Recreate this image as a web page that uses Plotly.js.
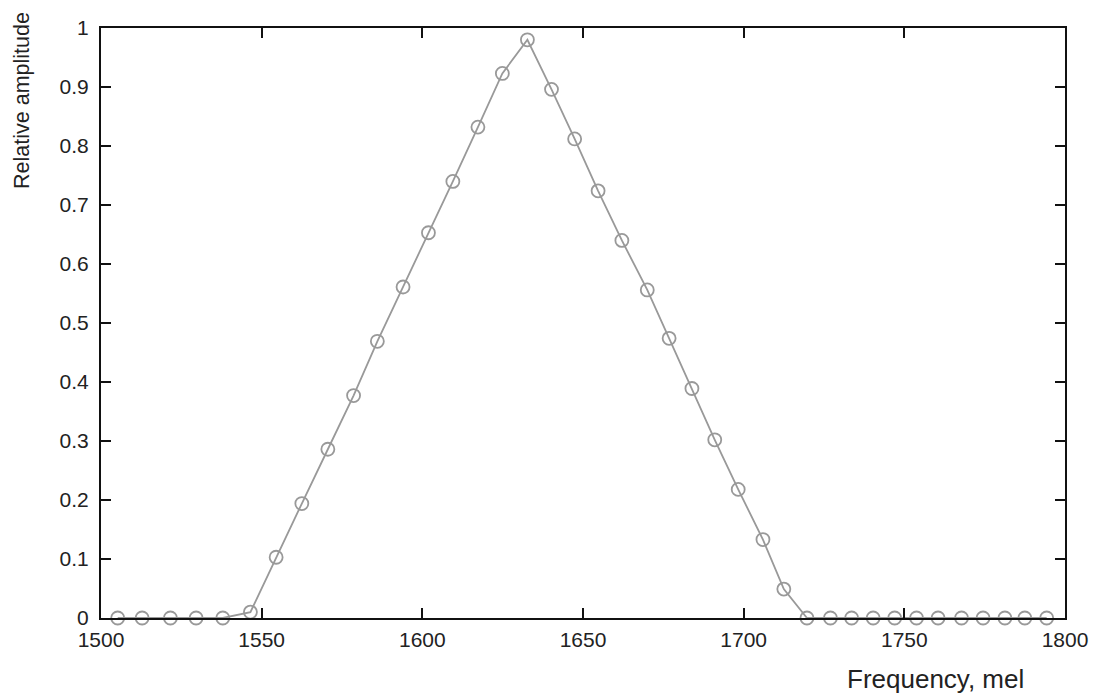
<!DOCTYPE html>
<html>
<head>
<meta charset="utf-8">
<script src="https://cdn.plot.ly/plotly-3.0.1.min.js"></script>
<style>html,body{margin:0;padding:0;background:#fff;}#chart{width:1095px;height:695px;}</style>
</head>
<body>
<div id="chart"></div>
<script>
const frequencyMel = [1505.2, 1512.8, 1521.6, 1529.6, 1537.9, 1546.5, 1554.5, 1562.5, 1570.6, 1578.6,
  1586.0, 1594.0, 1601.9, 1609.5, 1617.3, 1624.9, 1632.7, 1640.2, 1647.4, 1654.7,
  1662.1, 1670.0, 1676.8, 1683.9, 1691.0, 1698.3, 1706.0, 1712.5, 1719.7, 1727.0,
  1733.6, 1740.3, 1747.0, 1753.8, 1760.5, 1767.8, 1774.5, 1781.3, 1787.5, 1794.3];
const amplitude = [0, 0, 0, 0, 0, 0.010, 0.103, 0.194, 0.286, 0.377,
  0.469, 0.561, 0.653, 0.740, 0.832, 0.923, 0.980, 0.896, 0.812, 0.724,
  0.640, 0.556, 0.474, 0.389, 0.302, 0.218, 0.133, 0.049, 0, 0,
  0, 0, 0, 0, 0, 0, 0, 0, 0, 0];
const xTicks = [1500, 1550, 1600, 1650, 1700, 1750, 1800];
const yTicks = [0, 0.1, 0.2, 0.3, 0.4, 0.5, 0.6, 0.7, 0.8, 0.9, 1];
const yTickLabels = ['0', '0.1', '0.2', '0.3', '0.4', '0.5', '0.6', '0.7', '0.8', '0.9', '1'];
const xTitle = 'Frequency, mel';
const yTitle = 'Relative amplitude';

const fam = 'Liberation Sans, Arial, sans-serif';
const tickFont = {family: fam, size: 21, color: '#222'};

const trace = {
  x: frequencyMel, y: amplitude, type: 'scatter', mode: 'lines+markers',
  line: {color: '#999999', width: 1.8},
  marker: {symbol: 'circle-open', size: 13, color: '#999999', line: {width: 1.8, color: '#999999'}},
  cliponaxis: false, hoverinfo: 'skip'
};

const layout = {
  width: 1095, height: 695,
  margin: {l: 101, r: 30, t: 28, b: 77},
  paper_bgcolor: '#fff', plot_bgcolor: '#fff',
  showlegend: false,
  font: tickFont,
  xaxis: {
    range: [1500, 1800], tickvals: xTicks, ticktext: xTicks.map(String),
    ticks: 'inside', ticklen: 10, tickwidth: 2, tickcolor: '#111',
    showline: true, linecolor: '#111', linewidth: 2, mirror: 'ticks',
    showgrid: false, zeroline: false, tickfont: tickFont, ticklabelstandoff: 2
  },
  yaxis: {
    range: [0, 1], tickvals: yTicks, ticktext: yTickLabels,
    ticks: 'inside', ticklen: 10, tickwidth: 2, tickcolor: '#111',
    showline: true, linecolor: '#111', linewidth: 2, mirror: 'ticks',
    showgrid: false, zeroline: false, tickfont: tickFont, ticklabelstandoff: 6
  },
  annotations: [
    {text: xTitle, xref: 'paper', yref: 'paper', x: 0.866, y: -0.103, xanchor: 'center', yanchor: 'middle',
     showarrow: false, font: {family: fam, size: 26, color: '#222'}},
    {text: yTitle, xref: 'paper', yref: 'paper', x: -0.082, y: 0.878, xanchor: 'center', yanchor: 'middle',
     textangle: -90, showarrow: false, font: {family: fam, size: 21.5, color: '#222'}}
  ]
};

Plotly.newPlot('chart', [trace], layout, {displayModeBar: false, staticPlot: true});
</script>
</body>
</html>
